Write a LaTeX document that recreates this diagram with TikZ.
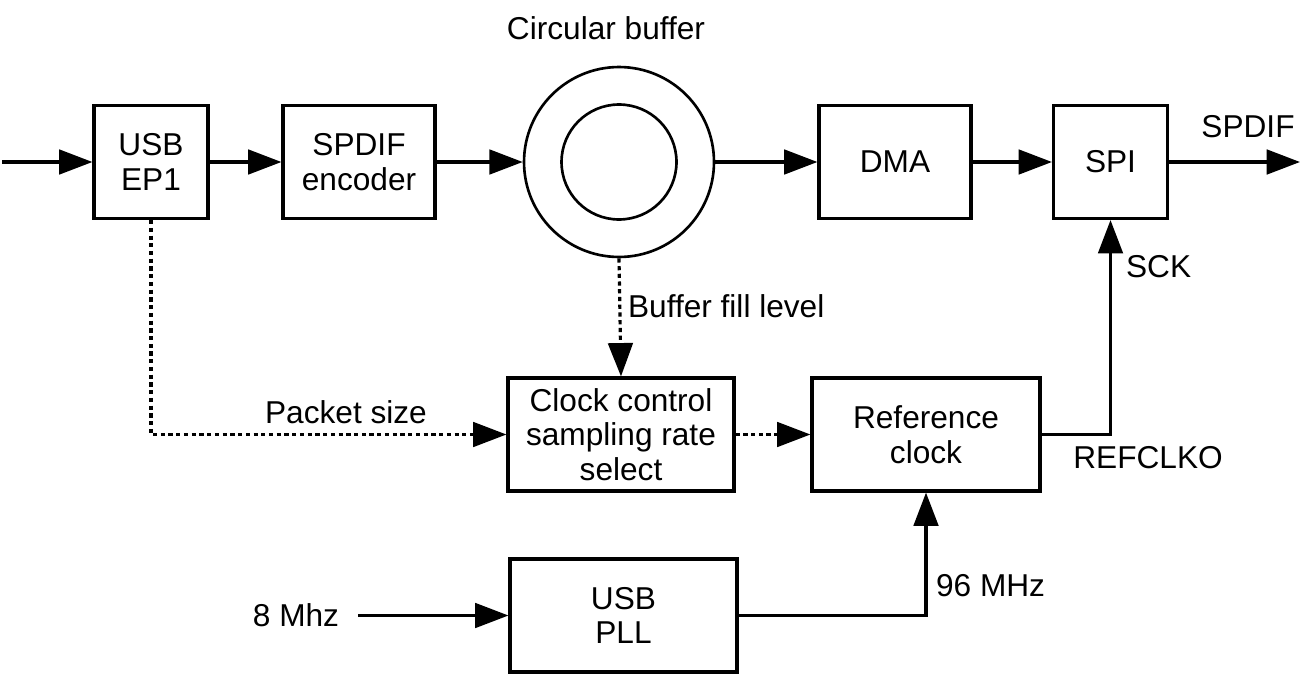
\documentclass[tikz,border=0pt]{standalone}
\usepackage{fontspec}
\setmainfont{Liberation Sans}
\usetikzlibrary{arrows.meta}

\begin{document}
\begin{tikzpicture}[
	x=0.02cm, y=0.02cm,
	font=\fontsize{18}{19.6}\selectfont,
	block/.style={draw, rectangle, line width=1.8pt, align=center, minimum width=2.28cm, minimum height=2.26cm, inner sep=1pt},
	ring/.style={draw, circle, line width=1.5pt, inner sep=0pt},
	label/.style={inner sep=1pt},
	connect/.style={->, line width=1.8pt},
	dotted line/.style={connect, dash pattern=on 2.4pt off 2pt},
	>={Triangle[length=19pt, width=14pt]}
	]
	
	\useasboundingbox (0,0) rectangle (1314,674);
	
	%-----------------------
	% Row heights
	%-----------------------
	\def\htop{512}     % Row 1: data path
	\def\hmid{239.5}   % Row 2: clock control
	\def\hbot{58.5}    % Row 3: PLL
	
	%-----------------------
	% Row 1: data path
	%-----------------------
	\coordinate (in) at (2,\htop);
	\node[block] (ep1) at (151,\htop) {USB\\EP1};
	\node[block, minimum width=3.04cm] (enc) at (359,\htop) {SPDIF\\encoder};
	\node[ring, minimum size=3.8cm] (buf) at (619,\htop) {};
	\node[ring, minimum size=2.3cm] (bufin) at (619,\htop) {};
	\node[label] (buftxt) at (606,646) {Circular buffer};
	\node[block, minimum width=3.04cm] (dma) at (895,\htop) {DMA};
	\node[block] (spi) at (1110.5,\htop) {SPI};
	\coordinate (out) at (1300,\htop);
	\node[label] (spdif) at (1248,547) {SPDIF};
	
	%-----------------------
	% Row 2: clock control
	%-----------------------
	\node[block, minimum width=4.52cm] (ctl) at (621,\hmid) {Clock control\\sampling rate\\select};
	\node[block, minimum width=4.56cm] (ref) at (926,\hmid) {Reference\\clock};
	
	%-----------------------
	% Row 3: PLL
	%-----------------------
	\node[label] (mhz) at (296,\hbot) {8 Mhz};
	\coordinate (pllin) at (358,\hbot);
	\node[block, minimum width=4.54cm] (pll) at (623.5,\hbot) {USB\\PLL};
	
	%-----------------------
	% Connection labels
	%-----------------------
	\node[label, anchor=west] (fill) at (626,368) {Buffer fill level};
	\node[label] (pkt) at (346,262) {Packet size};
	\node[label, anchor=west] (sck) at (1124,407) {SCK};
	\node[label] (refclko) at (1148,216) {REFCLKO};
	\node[label, anchor=west] (nsix) at (934,88) {96 MHz};
	
	%-----------------------
	% Connections
	%-----------------------
	% data path
	\draw[connect] (in) -- (ep1.west);
	\draw[connect] (ep1) -- (enc);
	\draw[connect] (enc) -- (buf.west);
	\draw[connect] (buf.east) -- (dma);
	\draw[connect] (dma) -- (spi);
	\draw[connect] (spi) -- (out);
	
	% control (dotted)
	\draw[dotted line] (buf.south) -- (ctl.north);
	\draw[dotted line] (ep1.south) |- (ctl.west);
	\draw[dotted line] (ctl) -- (ref);
	
	% clocks
	\draw[connect] (ref.east) -| (spi.south);
	\draw[connect] (pllin) -- (pll.west);
	\draw[connect] (pll.east) -| (ref.south);
	
\end{tikzpicture}
\end{document}
